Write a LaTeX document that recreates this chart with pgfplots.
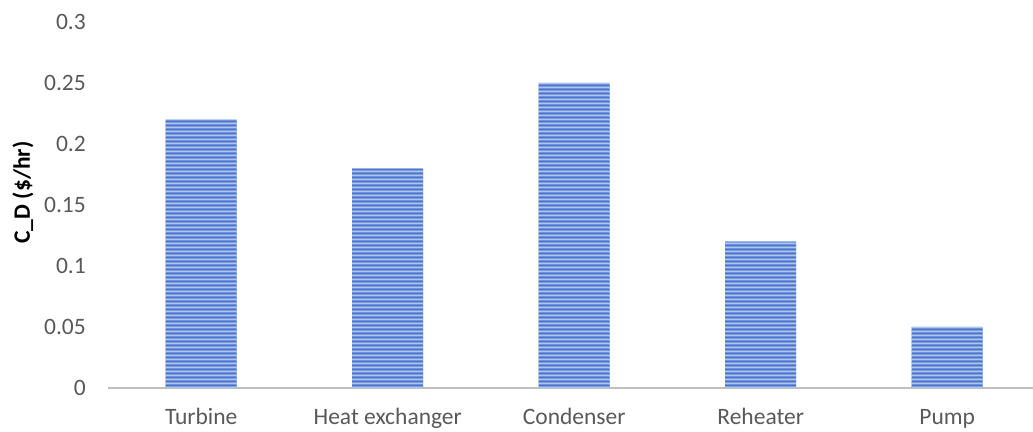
\documentclass[border=0pt]{standalone}
\usepackage{pgfplots}
\pgfplotsset{compat=1.18}
\usepackage{fontspec}
\setmainfont{Carlito}
\usetikzlibrary{patterns.meta}

\definecolor{barblue}{HTML}{4A76CC}
\definecolor{barlight}{HTML}{AFC4EE}
\definecolor{axisgray}{HTML}{BFBFBF}
\definecolor{labelgray}{HTML}{595959}

% horizontal two-tone stripes; wide tiles avoid vertical seams
\pgfdeclarepattern{
  name=hstripes,
  type=colored,
  bottom left={\pgfpoint{0pt}{0pt}},
  top right={\pgfpoint{300pt}{4pt}},
  tile size={\pgfpoint{300pt}{4pt}},
  code={
    \pgfsetfillcolor{barlight}
    \pgfpathrectangle{\pgfpoint{0pt}{0pt}}{\pgfpoint{300pt}{2pt}}
    \pgfusepath{fill}
    \pgfsetfillcolor{barblue}
    \pgfpathrectangle{\pgfpoint{0pt}{2pt}}{\pgfpoint{300pt}{2pt}}
    \pgfusepath{fill}
  }
}

\begin{document}
\begin{tikzpicture}
\begin{axis}[
  name=ax,
  scale only axis,
  width=925pt, height=366pt,
  xmin=-0.5, xmax=4.46,
  ymin=0, ymax=0.3,
  ytick={0,0.05,...,0.3},
  yticklabels={0,0.05,0.1,0.15,0.2,0.25,0.3},
  xtick={0,1,2,3,4},
  xticklabels={Turbine,Heat exchanger,Condenser,Reheater,Pump},
  major tick length=0pt,
  axis x line=bottom,
  axis y line=left,
  y axis line style={draw=none},
  x axis line style={-, draw=axisgray, line width=1.6pt},
  tick label style={font=\fontsize{23.5}{28}\selectfont, text=labelgray},
  yticklabel style={anchor=east, inner sep=0pt, xshift=-22pt},
  xticklabel style={anchor=base, inner sep=0pt, yshift=-37pt},
  ylabel={\textbf{C\_D (\$/hr)}},
  ylabel style={at={(axis description cs:-0.092,0.534)}, anchor=center,
    font=\fontsize{23.5}{28}\selectfont, text=black},
  ybar,
  bar width=71pt,
  clip=false,
]
\addplot[draw=none, fill=barblue!60!barlight, postaction={pattern=hstripes}]
  coordinates {(0,0.22) (1,0.18) (2,0.25) (3,0.12) (4,0.05)};
\end{axis}
\pgfresetboundingbox
\path ([xshift=-108pt,yshift=-44pt]ax.south west) rectangle ([yshift=22pt]ax.north east);
\end{tikzpicture}
\end{document}
